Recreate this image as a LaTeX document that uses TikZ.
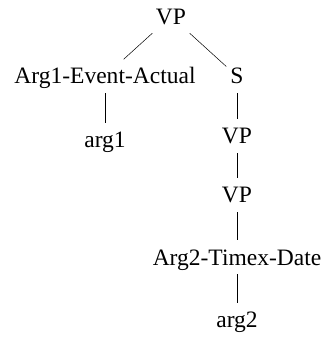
\documentclass[tikz,border=0pt]{standalone}
\usepackage{fontspec}
\setmainfont{Liberation Serif}

\begin{document}
\begin{tikzpicture}[
	tag/.style={anchor=base, inner xsep=0.141cm, inner ysep=0.318cm, text height=0.547cm, text depth=0cm, font=\fontsize{23.6}{28}\selectfont},
	branch/.style={line width=0.5pt}]
		% Page frame:
		\useasboundingbox (0, 0) rectangle (11.395, 11.924);
		% Nodes of the tree:
		\node[tag] (vp) at (6.033, 11.077){VP};
		\node[tag] (arg1event) at (3.704, 8.961){Arg1-Event-Actual};
		\node[tag] (s) at (8.361, 8.961){S};
		\node[tag] (arg1) at (3.704, 6.703){arg1};
		\node[tag] (vp2) at (8.361, 6.844){VP};
		\node[tag] (vp3) at (8.361, 4.763){VP};
		\node[tag] (arg2timex) at (8.361, 2.575){Arg2-Timex-Date};
		\node[tag] (arg2) at (8.361, 0.353){arg2};
		% Branches:
		\draw[branch] (vp) -- (arg1event);
		\draw[branch] (vp) -- (s);
		\draw[branch] (arg1event) -- (arg1);
		\draw[branch] (s) -- (vp2);
		\draw[branch] (vp2) -- (vp3);
		\draw[branch] (vp3) -- (arg2timex);
		\draw[branch] (arg2timex) -- (arg2);
	\end{tikzpicture}
\end{document}
